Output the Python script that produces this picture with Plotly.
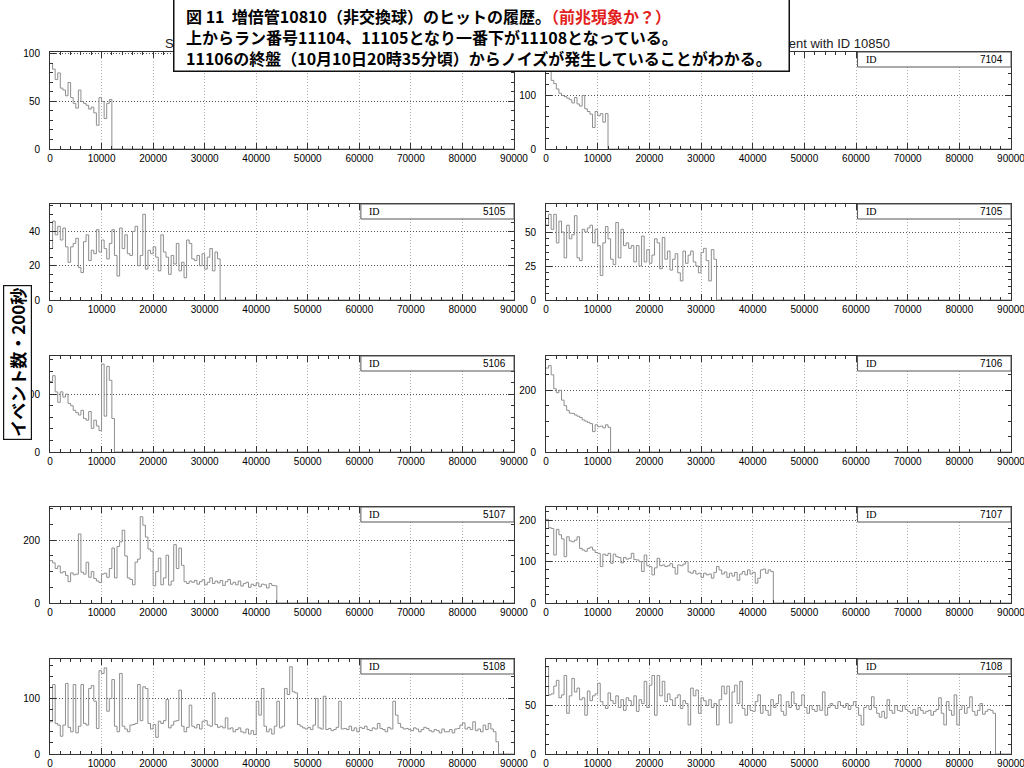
import numpy as np
import plotly.graph_objects as go

BIN = 500
X_MAX = 90000
W, H = 1024, 768

panel_ids = [5104, 7104, 5105, 7105, 5106, 7106, 5107, 7107, 5108, 7108]

h5104 = [90, 84, 73, 80, 64, 62, 56, 70, 54, 48, 43, 62, 50, 48, 46, 42, 44, 38, 25, 54, 50, 32, 48, 52]
h7104 = [170, 148, 128, 122, 112, 104, 100, 98, 95, 92, 86, 96, 84, 80, 100, 75, 70, 65, 40, 70, 62, 66, 50, 66]
h5105 = [30, 46, 38, 43, 35, 42, 31, 22, 31, 33,
         36, 19, 16, 34, 38, 23, 29, 27, 41, 28,
         35, 30, 24, 33, 41, 26, 14, 42, 30, 38,
         27, 26, 40, 43, 20, 26, 50, 18, 29, 27,
         31, 25, 17, 38, 28, 25, 15, 26, 21, 33,
         17, 22, 13, 35, 33, 24, 23, 26, 20, 27,
         18, 25, 30, 17, 28, 24]
h7105 = [55, 63, 52, 63, 42, 58, 50, 31, 55, 45,
         48, 62, 31, 29, 52, 50, 53, 55, 42, 52,
         40, 18, 42, 54, 45, 30, 26, 57, 31, 52,
         40, 42, 38, 40, 28, 40, 25, 47, 28, 37,
         27, 33, 45, 42, 23, 46, 30, 36, 22, 30,
         34, 20, 14, 36, 27, 33, 36, 28, 25, 20,
         35, 38, 29, 14, 37, 30]
h5106 = [122, 132, 104, 86, 104, 95, 100, 84, 80, 72, 68, 64, 72, 58, 55, 70, 41, 55, 45, 37, 152, 62, 148, 124, 58]
h7106 = [272, 280, 250, 205, 192, 200, 168, 150, 135, 126, 125, 120, 116, 112, 104, 100, 96, 92, 66, 88, 82, 84, 78, 88, 80]
h5107 = [135, 128, 110, 118, 96, 100, 88, 68, 96, 90,
         92, 220, 98, 92, 130, 82, 100, 78, 70, 65,
         92, 95, 82, 110, 175, 80, 180, 195, 232, 150,
         80, 75, 58, 130, 140, 275, 248, 210, 172, 165,
         55, 100, 143, 58, 80, 152, 57, 70, 186, 110,
         175, 120, 68, 62, 70, 66, 72, 60, 68, 74,
         58, 66, 80, 62, 70, 64, 72, 56, 68, 75,
         60, 66, 58, 70, 54, 62, 66, 50, 60, 55,
         64, 52, 60, 58, 48, 62, 56, 55]
h7107 = [202, 182, 180, 116, 178, 165, 155, 112, 160, 150,
         148, 152, 160, 132, 128, 125, 132, 135, 128, 122,
         120, 88, 118, 115, 120, 96, 118, 112, 110, 97,
         110, 106, 108, 120, 105, 104, 100, 76, 116, 90,
         88, 68, 85, 108, 90, 92, 88, 90, 95, 86,
         70, 92, 90, 94, 100, 75, 72, 78, 70, 72,
         62, 72, 68, 70, 60, 74, 88, 80, 70, 75,
         62, 72, 65, 74, 55, 70, 76, 68, 80, 70,
         74, 48, 60, 80, 82, 72, 80, 76]
h5108 = [58, 125, 55, 52, 32, 52, 127, 48, 40, 125,
         38, 50, 125, 55, 52, 118, 123, 95, 46, 150,
         145, 155, 77, 100, 134, 50, 40, 145, 50, 45,
         40, 52, 53, 55, 125, 60, 121, 118, 55, 45,
         53, 30, 59, 55, 60, 98, 47, 52, 59, 60,
         115, 50, 40, 48, 88, 50, 47, 53, 45, 59,
         60, 52, 50, 110, 53, 48, 50, 47, 65, 45,
         47, 40, 44, 47, 40, 38, 45, 36, 42, 35,
         95, 70, 118, 50, 40, 45, 36, 50, 95, 47,
         50, 118, 107, 157, 112, 110, 53, 50, 47, 45,
         48, 44, 52, 100, 47, 45, 104, 44, 46, 42,
         44, 48, 95, 45, 46, 44, 50, 42, 47, 40,
         48, 46, 50, 44, 42, 47, 45, 55, 46, 44,
         40, 48, 45, 95, 70, 55, 48, 45, 46, 44,
         42, 47, 45, 40, 44, 48, 46, 42, 40, 44,
         42, 38, 45, 40, 40, 44, 38, 45, 46, 52,
         56, 45, 48, 44, 58, 42, 45, 40, 52, 44,
         55, 45, 40, 22]
h7108 = [90, 61, 62, 70, 76, 58, 61, 81, 42, 60,
         78, 64, 68, 56, 58, 40, 65, 55, 60, 62,
         73, 54, 50, 47, 63, 55, 52, 60, 48, 56,
         45, 58, 55, 50, 60, 44, 56, 52, 75, 48,
         71, 81, 40, 81, 60, 75, 54, 62, 56, 50,
         58, 61, 47, 55, 52, 30, 68, 60, 66, 42,
         58, 55, 50, 56, 48, 52, 30, 56, 70, 62,
         70, 32, 64, 71, 52, 75, 47, 40, 50, 45,
         44, 54, 61, 42, 50, 45, 40, 56, 48, 52,
         61, 44, 40, 54, 48, 64, 52, 46, 50, 61,
         48, 42, 50, 46, 44, 50, 45, 64, 40, 48,
         52, 50, 47, 54, 50, 48, 52, 46, 50, 54,
         48, 40, 30, 48, 50, 46, 59, 48, 42, 38,
         44, 37, 56, 45, 42, 50, 45, 44, 50, 46,
         44, 42, 46, 40, 48, 45, 42, 44, 45, 40,
         44, 46, 58, 42, 30, 54, 45, 40, 61, 30,
         46, 50, 42, 48, 59, 44, 40, 45, 52, 41,
         44, 46, 45, 42]

series = [h5104, h7104, h5105, h7105, h5106, h7106, h5107, h7107, h5108, h7108]

x_tick_step = 10000
x_minor_step = 2000
y_max = [102, 181, 56, 70.6, 166, 311, 306, 232, 171, 98]
y_dtick = [50, 100, 20, 25, 100, 200, 200, 100, 100, 50]
y_minor = [10, 20, 5, 5, 20, 50, 50, 20, 20, 10]

panel_title = "Single hits of event with ID 10850"
title_lines = [
    "図 11\u00a0\u00a0増倍管10810（非交換球）のヒットの履歴。<span style='color:#e3211c'>（前兆現象か？）</span>",
    "上からラン番号11104、11105となり一番下が11108となっている。",
    "11106の終盤（10月10日20時35分頃）からノイズが発生していることがわかる。",
]
y_label = "イベント数・200秒"

# ---------------- layout geometry (pixels) ----------------
col_px = [(50, 514), (546, 1011)]
row_px = [(52, 149), (204, 300), (356, 452), (507, 603), (659, 754)]


def px(x):
    return x / W


def py(y):
    return 1 - y / H


fig = go.Figure()
AX_COL = "#333333"
tick_font = dict(family="Liberation Sans, Arial, sans-serif", size=10, color="black")

shapes = []
annotations = []

for k, vals in enumerate(series):
    r, c = divmod(k, 2)
    sfx = "" if k == 0 else str(k + 1)
    xn, yn = "x" + sfx, "y" + sfx
    n = len(vals)
    edges = (np.arange(n + 1) * BIN).tolist()
    xs = edges + [X_MAX]
    ys = list(vals) + [0, 0]
    fig.add_trace(go.Scatter(x=xs, y=ys, mode="lines",
                             line=dict(shape="hv", color="#8e8e8e", width=1),
                             xaxis=xn, yaxis=yn, hoverinfo="skip", showlegend=False))
    x0, x1 = col_px[c]
    y0, y1 = row_px[r]
    common = dict(ticks="inside", ticklen=6, tickcolor=AX_COL, tickwidth=1,
                  showline=True, linecolor=AX_COL, linewidth=1, mirror="allticks",
                  zeroline=False, automargin=False, fixedrange=True,
                  tickfont=tick_font, griddash="1px,2px", gridwidth=1,
                  ticklabeloverflow="allow")
    fig.layout["xaxis" + sfx] = dict(
        domain=[px(x0), px(x1)], anchor=yn, range=[0, X_MAX],
        tickmode="linear", tick0=0, dtick=x_tick_step, tickformat="d",
        showgrid=True, gridcolor="#b0b0b0", ticklabelstandoff=0,
        minor=dict(ticks="inside", ticklen=3, tickcolor=AX_COL, dtick=x_minor_step, tick0=0, showgrid=False),
        **common)
    fig.layout["yaxis" + sfx] = dict(
        domain=[py(y1), py(y0)], anchor=xn, range=[0, y_max[k]],
        tickmode="linear", tick0=0, dtick=y_dtick[k], tickformat="d",
        showgrid=True, gridcolor="#555555", ticklabelstandoff=7,
        minor=dict(ticks="inside", ticklen=3, tickcolor=AX_COL, dtick=y_minor[k], tick0=0, showgrid=False),
        **common)
    hpx = y1 - y0
    wpx = x1 - x0
    box_h = 15 / hpx
    shapes.append(dict(type="rect", xref=xn + " domain", yref=yn + " domain",
                       x0=0.67, x1=1, y0=1 - box_h, y1=1,
                       line=dict(color="#555", width=1), fillcolor="white", layer="above"))
    annotations.append(dict(text="ID", xref=xn + " domain", yref=yn + " domain",
                            x=0.67 + 6 / wpx, y=1 - box_h / 2, xanchor="left", yanchor="middle",
                            showarrow=False, font=dict(family="Liberation Serif, serif", size=10, color="black")))
    annotations.append(dict(text=str(panel_ids[k]), xref=xn + " domain", yref=yn + " domain",
                            x=1 - 6 / wpx, y=1 - box_h / 2, xanchor="right", yanchor="middle",
                            showarrow=False, font=dict(family="Liberation Sans, Arial, sans-serif", size=10, color="black")))

# panel titles (mostly hidden behind the caption box)
title_font = dict(family="Liberation Sans, Arial, sans-serif", size=13, color="#222")
annotations.append(dict(text=panel_title, xref="paper", yref="paper", x=px(163), y=py(44),
                        xanchor="left", yanchor="middle", showarrow=False, font=title_font))
annotations.append(dict(text=panel_title, xref="paper", yref="paper", x=px(892), y=py(44),
                        xanchor="right", yanchor="middle", showarrow=False, font=title_font))

# caption box
annotations.append(dict(text=" ", xref="paper", yref="paper", x=px(173), y=py(-3),
                        xanchor="left", yanchor="top", showarrow=False,
                        width=614, height=72, borderpad=0, borderwidth=1.5,
                        bordercolor="#111", bgcolor="white"))
annotations.append(dict(text="<br>".join("<b>" + t + "</b>" for t in title_lines),
                        xref="paper", yref="paper", x=px(184), y=py(37),
                        xanchor="left", yanchor="middle", align="left", showarrow=False,
                        font=dict(family="Noto Sans CJK JP, sans-serif", size=16, color="black")))

# y-axis label box
annotations.append(dict(text="<b>" + y_label + "</b>", xref="paper", yref="paper", x=px(17), y=py(363),
                        xanchor="center", yanchor="middle", textangle=-90, showarrow=False,
                        width=153, height=27, borderpad=0, borderwidth=1.2,
                        bordercolor="#111", bgcolor="white",
                        font=dict(family="Noto Sans CJK JP, sans-serif", size=17, color="black")))

fig.update_layout(width=W, height=H, margin=dict(l=0, r=0, t=0, b=0),
                  template="none", paper_bgcolor="white", plot_bgcolor="white",
                  showlegend=False, shapes=shapes, annotations=annotations,
                  font=dict(family="Liberation Sans, Arial, sans-serif"))

fig.write_html("out.html", config={"displayModeBar": False, "staticPlot": True},
               post_script="document.body.style.margin='0';document.body.style.overflow='hidden';")
